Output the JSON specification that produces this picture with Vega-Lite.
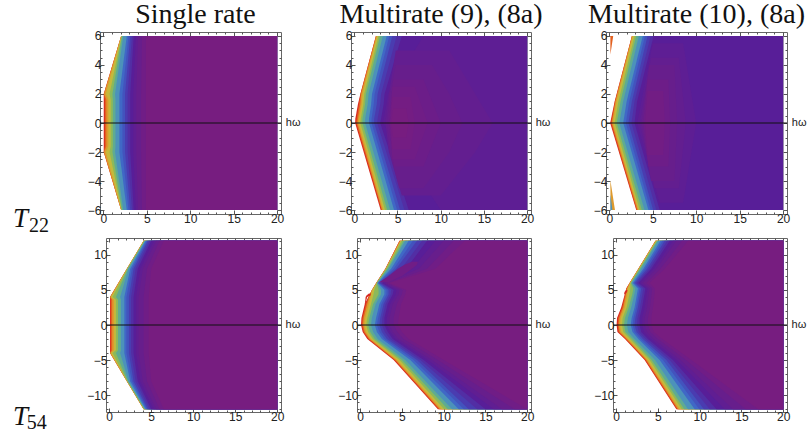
{"$schema":"https://vega.github.io/schema/vega-lite/v6.json","padding":0,"autosize":{"type":"pad"},"background":"white","config":{"view":{"stroke":null},"axis":{"grid":false,"domain":false,"title":null,"labelFont":"Liberation Sans","labelFontSize":12,"labelColor":"#222","tickColor":"#555","labelPadding":3,"format":"d"},"title":{"font":"Liberation Serif","fontSize":28,"fontWeight":"normal","color":"#111","anchor":"middle","offset":1}},
"datasets":{
"a":[
{"v":1,"y":6,"x":2.05},{"v":1,"y":2,"x":0.05},{"v":1,"y":1.6,"x":0.05},{"v":1,"y":-1.6,"x":0.05},{"v":1,"y":-2,"x":0.05},{"v":1,"y":-6,"x":2.05},
{"v":0.9,"y":6,"x":2.05},{"v":0.9,"y":2,"x":0.05},{"v":0.9,"y":1.6,"x":0.18},{"v":0.9,"y":-1.6,"x":0.18},{"v":0.9,"y":-2,"x":0.05},{"v":0.9,"y":-6,"x":2.05},
{"v":0.8,"y":6,"x":2.05},{"v":0.8,"y":2,"x":0.1},{"v":0.8,"y":1.6,"x":0.35},{"v":0.8,"y":-1.6,"x":0.35},{"v":0.8,"y":-2,"x":0.1},{"v":0.8,"y":-6,"x":2.05},
{"v":0.7,"y":6,"x":2.07},{"v":0.7,"y":2,"x":0.3},{"v":0.7,"y":1.6,"x":0.58},{"v":0.7,"y":-1.6,"x":0.58},{"v":0.7,"y":-2,"x":0.3},{"v":0.7,"y":-6,"x":2.07},
{"v":0.6,"y":6,"x":2.1},{"v":0.6,"y":2,"x":0.72},{"v":0.6,"y":1.6,"x":0.85},{"v":0.6,"y":-1.6,"x":0.85},{"v":0.6,"y":-2,"x":0.72},{"v":0.6,"y":-6,"x":2.1},
{"v":0.5,"y":6,"x":2.15},{"v":0.5,"y":2,"x":1.05},{"v":0.5,"y":1.6,"x":1.1},{"v":0.5,"y":-1.6,"x":1.1},{"v":0.5,"y":-2,"x":1.05},{"v":0.5,"y":-6,"x":2.15},
{"v":0.4,"y":6,"x":2.3},{"v":0.4,"y":2,"x":1.35},{"v":0.4,"y":1.6,"x":1.4},{"v":0.4,"y":-1.6,"x":1.4},{"v":0.4,"y":-2,"x":1.35},{"v":0.4,"y":-6,"x":2.3},
{"v":0.3,"y":6,"x":2.7},{"v":0.3,"y":2,"x":1.85},{"v":0.3,"y":-2,"x":1.85},{"v":0.3,"y":-6,"x":2.7},
{"v":0.25,"y":6,"x":2.9},{"v":0.25,"y":2,"x":2.2},{"v":0.25,"y":-2,"x":2.2},{"v":0.25,"y":-6,"x":2.9},
{"v":0.2,"y":6,"x":3.1},{"v":0.2,"y":2,"x":2.5},{"v":0.2,"y":-2,"x":2.5},{"v":0.2,"y":-6,"x":3.1},
{"v":0.16,"y":6,"x":3.3},{"v":0.16,"y":2,"x":2.8},{"v":0.16,"y":-2,"x":2.8},{"v":0.16,"y":-6,"x":3.3},
{"v":0.12,"y":6,"x":3.5},{"v":0.12,"y":2,"x":3.1},{"v":0.12,"y":-2,"x":3.1},{"v":0.12,"y":-6,"x":3.5},
{"v":0.09,"y":6,"x":3.75},{"v":0.09,"y":2,"x":3.45},{"v":0.09,"y":-2,"x":3.45},{"v":0.09,"y":-6,"x":3.75},
{"v":0.06,"y":6,"x":4},{"v":0.06,"y":2,"x":3.8},{"v":0.06,"y":-2,"x":3.8},{"v":0.06,"y":-6,"x":4},
{"v":0.03,"y":6,"x":4.45},{"v":0.03,"y":2,"x":4.35},{"v":0.03,"y":-2,"x":4.35},{"v":0.03,"y":-6,"x":4.45},
{"v":0,"y":6,"x":4.9},{"v":0,"y":-6,"x":4.9}],
"b":[
{"v":1,"y":6,"x":2.5},{"v":1,"y":2,"x":0.7},{"v":1,"y":1.3,"x":0.42},{"v":1,"y":0.3,"x":0.12},{"v":1,"y":0,"x":0.1},{"v":1,"y":-6,"x":3.05},
{"v":0.9,"y":6,"x":2.5},{"v":0.9,"y":2,"x":0.72},{"v":0.9,"y":1.3,"x":0.55},{"v":0.9,"y":0.3,"x":0.28},{"v":0.9,"y":0,"x":0.22},{"v":0.9,"y":-6,"x":3.15},
{"v":0.8,"y":6,"x":2.55},{"v":0.8,"y":2,"x":0.8},{"v":0.8,"y":1.3,"x":0.7},{"v":0.8,"y":0.3,"x":0.42},{"v":0.8,"y":0,"x":0.35},{"v":0.8,"y":-6,"x":3.22},
{"v":0.7,"y":6,"x":2.62},{"v":0.7,"y":2,"x":0.95},{"v":0.7,"y":1.3,"x":0.85},{"v":0.7,"y":0.3,"x":0.55},{"v":0.7,"y":0,"x":0.5},{"v":0.7,"y":-6,"x":3.35},
{"v":0.6,"y":6,"x":2.8},{"v":0.6,"y":2,"x":1.15},{"v":0.6,"y":1.3,"x":1.05},{"v":0.6,"y":0.3,"x":0.75},{"v":0.6,"y":0,"x":0.7},{"v":0.6,"y":-6,"x":3.55},
{"v":0.5,"y":6,"x":3},{"v":0.5,"y":2,"x":1.35},{"v":0.5,"y":1.3,"x":1.25},{"v":0.5,"y":0.3,"x":0.95},{"v":0.5,"y":0,"x":0.95},{"v":0.5,"y":-6,"x":3.8},
{"v":0.4,"y":6,"x":3.3},{"v":0.4,"y":2,"x":1.65},{"v":0.4,"y":1.3,"x":1.55},{"v":0.4,"y":0.3,"x":1.25},{"v":0.4,"y":0,"x":1.25},{"v":0.4,"y":-6,"x":4.15},
{"v":0.3,"y":6,"x":3.75},{"v":0.3,"y":2,"x":2.05},{"v":0.3,"y":1.3,"x":1.95},{"v":0.3,"y":0.3,"x":1.7},{"v":0.3,"y":0,"x":1.7},{"v":0.3,"y":-6,"x":4.6},
{"v":0.25,"y":6,"x":4.05},{"v":0.25,"y":2,"x":2.35},{"v":0.25,"y":1.3,"x":2.25},{"v":0.25,"y":0.3,"x":2},{"v":0.25,"y":0,"x":2},{"v":0.25,"y":-6,"x":4.95},
{"v":0.2,"y":6,"x":4.4},{"v":0.2,"y":2,"x":2.7},{"v":0.2,"y":1.3,"x":2.6},{"v":0.2,"y":0.3,"x":2.3},{"v":0.2,"y":0,"x":2.3},{"v":0.2,"y":-6,"x":5.3},
{"v":0.16,"y":6,"x":4.9},{"v":0.16,"y":2,"x":3.1},{"v":0.16,"y":1.3,"x":3},{"v":0.16,"y":0.3,"x":2.7},{"v":0.16,"y":0,"x":2.65},{"v":0.16,"y":-6,"x":5.8},
{"v":0.12,"y":6,"x":5.5},{"v":0.12,"y":2,"x":3.5},{"v":0.12,"y":1.3,"x":3.4},{"v":0.12,"y":0.3,"x":3.1},{"v":0.12,"y":0,"x":3},{"v":0.12,"y":-6,"x":6.3},
{"v":0.1,"y":6,"x":8},{"v":0.1,"y":2,"x":3.9},{"v":0.1,"y":1.3,"x":3.7},{"v":0.1,"y":0.3,"x":3.4},{"v":0.1,"y":0,"x":3.3},{"v":0.1,"y":-6,"x":10}],
"b2":[
{"v":0.08,"y":5,"x":4.8,"e":11},{"v":0.08,"y":2,"x":4,"e":14},{"v":0.08,"y":0,"x":3.6,"e":16},{"v":0.08,"y":-2,"x":4,"e":14},{"v":0.08,"y":-5,"x":5.5,"e":10},
{"v":0.06,"y":4,"x":4.8,"e":9},{"v":0.06,"y":2,"x":4.1,"e":11},{"v":0.06,"y":0,"x":3.8,"e":12.5},{"v":0.06,"y":-2,"x":4.1,"e":11},{"v":0.06,"y":-4.5,"x":5.2,"e":8},
{"v":0.045,"y":3,"x":4.5,"e":8},{"v":0.045,"y":0,"x":4,"e":10},{"v":0.045,"y":-3,"x":4.6,"e":8},
{"v":0.03,"y":2.5,"x":4.4,"e":7},{"v":0.03,"y":0,"x":4.1,"e":8.5},{"v":0.03,"y":-2.5,"x":4.4,"e":7},
{"v":0.015,"y":1.8,"x":4.4,"e":6.5},{"v":0.015,"y":0,"x":4.2,"e":7},{"v":0.015,"y":-1.8,"x":4.4,"e":6.5},
{"v":0,"y":1,"x":4.5,"e":6},{"v":0,"y":0,"x":4.3,"e":6.3},{"v":0,"y":-1,"x":4.5,"e":6}],
"c":[
{"v":1,"y":6,"x":2.6},{"v":1,"y":1.5,"x":0.62},{"v":1,"y":0,"x":0.1},{"v":1,"y":-6,"x":3.1},
{"v":0.9,"y":6,"x":2.6},{"v":0.9,"y":1.5,"x":0.65},{"v":0.9,"y":0,"x":0.2},{"v":0.9,"y":-6,"x":3.15},
{"v":0.8,"y":6,"x":2.62},{"v":0.8,"y":1.5,"x":0.72},{"v":0.8,"y":0,"x":0.3},{"v":0.8,"y":-6,"x":3.25},
{"v":0.7,"y":6,"x":2.7},{"v":0.7,"y":1.5,"x":0.85},{"v":0.7,"y":0,"x":0.42},{"v":0.7,"y":-6,"x":3.35},
{"v":0.6,"y":6,"x":2.9},{"v":0.6,"y":1.5,"x":1.05},{"v":0.6,"y":0,"x":0.62},{"v":0.6,"y":-6,"x":3.5},
{"v":0.5,"y":6,"x":3.1},{"v":0.5,"y":1.5,"x":1.3},{"v":0.5,"y":0,"x":0.85},{"v":0.5,"y":-6,"x":3.75},
{"v":0.4,"y":6,"x":3.4},{"v":0.4,"y":1.5,"x":1.6},{"v":0.4,"y":0,"x":1.15},{"v":0.4,"y":-6,"x":4.05},
{"v":0.3,"y":6,"x":3.85},{"v":0.3,"y":1.5,"x":2},{"v":0.3,"y":0,"x":1.6},{"v":0.3,"y":-6,"x":4.5},
{"v":0.25,"y":6,"x":4.1},{"v":0.25,"y":1.5,"x":2.3},{"v":0.25,"y":0,"x":1.9},{"v":0.25,"y":-6,"x":4.75},
{"v":0.2,"y":6,"x":4.4},{"v":0.2,"y":1.5,"x":2.6},{"v":0.2,"y":0,"x":2.2},{"v":0.2,"y":-6,"x":5.05},
{"v":0.16,"y":6,"x":4.75},{"v":0.16,"y":1.5,"x":2.9},{"v":0.16,"y":0,"x":2.55},{"v":0.16,"y":-6,"x":5.4},
{"v":0.12,"y":6,"x":5.1},{"v":0.12,"y":1.5,"x":3.2},{"v":0.12,"y":0,"x":2.9},{"v":0.12,"y":-6,"x":5.8}],
"c2":[
{"v":0.1,"y":5.5,"x":5,"e":8.5},{"v":0.1,"y":0,"x":3.2,"e":10},{"v":0.1,"y":-5.5,"x":5.8,"e":8.5},
{"v":0.08,"y":4.5,"x":4.8,"e":8},{"v":0.08,"y":0,"x":3.5,"e":8.8},{"v":0.08,"y":-4.5,"x":5.2,"e":8},
{"v":0.06,"y":4,"x":4.6,"e":7.5},{"v":0.06,"y":0,"x":3.7,"e":7.8},{"v":0.06,"y":-4,"x":4.8,"e":7.5},
{"v":0.04,"y":3,"x":4.4,"e":6.8},{"v":0.04,"y":0,"x":3.9,"e":7},{"v":0.04,"y":-3,"x":4.5,"e":6.8},
{"v":0.02,"y":2.2,"x":4.4,"e":6.2},{"v":0.02,"y":0,"x":4.1,"e":6.4},{"v":0.02,"y":-2.2,"x":4.4,"e":6.2},
{"v":0.9,"y":6,"x":0.12,"e":0.45},{"v":0.9,"y":5.6,"x":0.12,"e":0.35},{"v":0.9,"y":4.7,"x":0.12,"e":0.12},
{"v":0.8,"y":-4,"x":0.12,"e":0.14},{"v":0.8,"y":-6,"x":0.15,"e":0.65},
{"v":0.4,"y":-5,"x":0.12,"e":0.15},{"v":0.4,"y":-6,"x":0.12,"e":0.35}],
"d":[
{"v":1,"y":12,"x":4.1},{"v":1,"y":8,"x":2.1},{"v":1,"y":4,"x":0.1},{"v":1,"y":-4,"x":0.1},{"v":1,"y":-8,"x":2.1},{"v":1,"y":-12,"x":4.1},
{"v":0.9,"y":12,"x":4.1},{"v":0.9,"y":8,"x":2.1},{"v":0.9,"y":4,"x":0.1},{"v":0.9,"y":3.6,"x":0.2},{"v":0.9,"y":-3.6,"x":0.2},{"v":0.9,"y":-4,"x":0.1},{"v":0.9,"y":-8,"x":2.1},{"v":0.9,"y":-12,"x":4.1},
{"v":0.8,"y":12,"x":4.1},{"v":0.8,"y":8,"x":2.1},{"v":0.8,"y":4,"x":0.12},{"v":0.8,"y":3.6,"x":0.36},{"v":0.8,"y":-3.6,"x":0.36},{"v":0.8,"y":-4,"x":0.12},{"v":0.8,"y":-8,"x":2.1},{"v":0.8,"y":-12,"x":4.1},
{"v":0.7,"y":12,"x":4.12},{"v":0.7,"y":8,"x":2.12},{"v":0.7,"y":4,"x":0.2},{"v":0.7,"y":3.6,"x":0.58},{"v":0.7,"y":-3.6,"x":0.58},{"v":0.7,"y":-4,"x":0.2},{"v":0.7,"y":-8,"x":2.12},{"v":0.7,"y":-12,"x":4.12},
{"v":0.6,"y":12,"x":4.15},{"v":0.6,"y":8,"x":2.15},{"v":0.6,"y":4,"x":0.4},{"v":0.6,"y":3.6,"x":0.8},{"v":0.6,"y":-3.6,"x":0.8},{"v":0.6,"y":-4,"x":0.4},{"v":0.6,"y":-8,"x":2.15},{"v":0.6,"y":-12,"x":4.15},
{"v":0.5,"y":12,"x":4.2},{"v":0.5,"y":8,"x":2.2},{"v":0.5,"y":4,"x":0.8},{"v":0.5,"y":3.6,"x":1.05},{"v":0.5,"y":-3.6,"x":1.05},{"v":0.5,"y":-4,"x":0.8},{"v":0.5,"y":-8,"x":2.2},{"v":0.5,"y":-12,"x":4.2},
{"v":0.4,"y":12,"x":4.25},{"v":0.4,"y":8,"x":2.3},{"v":0.4,"y":4,"x":1.3},{"v":0.4,"y":3.6,"x":1.4},{"v":0.4,"y":-3.6,"x":1.4},{"v":0.4,"y":-4,"x":1.3},{"v":0.4,"y":-8,"x":2.3},{"v":0.4,"y":-12,"x":4.25},
{"v":0.3,"y":12,"x":4.35},{"v":0.3,"y":8,"x":2.5},{"v":0.3,"y":4,"x":1.8},{"v":0.3,"y":-4,"x":1.8},{"v":0.3,"y":-8,"x":2.5},{"v":0.3,"y":-12,"x":4.35},
{"v":0.25,"y":12,"x":4.48},{"v":0.25,"y":8,"x":2.7},{"v":0.25,"y":4,"x":2.05},{"v":0.25,"y":-4,"x":2.05},{"v":0.25,"y":-8,"x":2.7},{"v":0.25,"y":-12,"x":4.48},
{"v":0.2,"y":12,"x":4.6},{"v":0.2,"y":8,"x":2.9},{"v":0.2,"y":4,"x":2.35},{"v":0.2,"y":-4,"x":2.35},{"v":0.2,"y":-8,"x":2.9},{"v":0.2,"y":-12,"x":4.6},
{"v":0.16,"y":12,"x":4.8},{"v":0.16,"y":8,"x":3.15},{"v":0.16,"y":4,"x":2.6},{"v":0.16,"y":-4,"x":2.6},{"v":0.16,"y":-8,"x":3.15},{"v":0.16,"y":-12,"x":4.8},
{"v":0.12,"y":12,"x":5},{"v":0.12,"y":8,"x":3.4},{"v":0.12,"y":4,"x":2.9},{"v":0.12,"y":-4,"x":2.9},{"v":0.12,"y":-8,"x":3.4},{"v":0.12,"y":-12,"x":5},
{"v":0.09,"y":12,"x":5.3},{"v":0.09,"y":8,"x":3.7},{"v":0.09,"y":4,"x":3.2},{"v":0.09,"y":-4,"x":3.2},{"v":0.09,"y":-8,"x":3.7},{"v":0.09,"y":-12,"x":5.3},
{"v":0.06,"y":12,"x":5.6},{"v":0.06,"y":8,"x":4},{"v":0.06,"y":4,"x":3.5},{"v":0.06,"y":-4,"x":3.5},{"v":0.06,"y":-8,"x":4},{"v":0.06,"y":-12,"x":5.6},
{"v":0.03,"y":12,"x":6},{"v":0.03,"y":8,"x":4.5},{"v":0.03,"y":4,"x":4.1},{"v":0.03,"y":-4,"x":4.1},{"v":0.03,"y":-8,"x":4.5},{"v":0.03,"y":-12,"x":6},
{"v":0,"y":12,"x":6.5},{"v":0,"y":8,"x":5},{"v":0,"y":4,"x":4.7},{"v":0,"y":-4,"x":4.7},{"v":0,"y":-8,"x":5},{"v":0,"y":-12,"x":6.5}],
"e":[
{"v":1,"y":12,"x":4.7},{"v":1,"y":8,"x":3},{"v":1,"y":6,"x":1.9},{"v":1,"y":5,"x":1.4},{"v":1,"y":4.4,"x":1.15},{"v":1,"y":3,"x":0.55},{"v":1,"y":1,"x":0.15},{"v":1,"y":0,"x":0.1},{"v":1,"y":-1,"x":0.3},{"v":1,"y":-2,"x":0.85},{"v":1,"y":-5,"x":4},{"v":1,"y":-12,"x":9.3},
{"v":0.9,"y":12,"x":4.72},{"v":0.9,"y":8,"x":3.02},{"v":0.9,"y":6,"x":1.92},{"v":0.9,"y":5,"x":1.4},{"v":0.9,"y":4.4,"x":1.15},{"v":0.9,"y":3,"x":0.7},{"v":0.9,"y":1,"x":0.28},{"v":0.9,"y":0,"x":0.22},{"v":0.9,"y":-1,"x":0.42},{"v":0.9,"y":-2,"x":1},{"v":0.9,"y":-5,"x":4.12},{"v":0.9,"y":-12,"x":9.42},
{"v":0.8,"y":12,"x":4.78},{"v":0.8,"y":8,"x":3.04},{"v":0.8,"y":6,"x":1.94},{"v":0.8,"y":5,"x":1.42},{"v":0.8,"y":4.4,"x":1.2},{"v":0.8,"y":3,"x":0.85},{"v":0.8,"y":1,"x":0.42},{"v":0.8,"y":0,"x":0.35},{"v":0.8,"y":-1,"x":0.55},{"v":0.8,"y":-2,"x":1.12},{"v":0.8,"y":-5,"x":4.25},{"v":0.8,"y":-12,"x":9.55},
{"v":0.7,"y":12,"x":4.85},{"v":0.7,"y":8,"x":3.06},{"v":0.7,"y":6,"x":1.95},{"v":0.7,"y":5,"x":1.44},{"v":0.7,"y":4.4,"x":1.3},{"v":0.7,"y":3,"x":1.05},{"v":0.7,"y":1,"x":0.6},{"v":0.7,"y":0,"x":0.5},{"v":0.7,"y":-1,"x":0.7},{"v":0.7,"y":-2,"x":1.28},{"v":0.7,"y":-5,"x":4.42},{"v":0.7,"y":-12,"x":9.75},
{"v":0.6,"y":12,"x":4.95},{"v":0.6,"y":8,"x":3.1},{"v":0.6,"y":6,"x":1.97},{"v":0.6,"y":5,"x":1.7},{"v":0.6,"y":4.4,"x":1.6},{"v":0.6,"y":3,"x":1.3},{"v":0.6,"y":1,"x":0.85},{"v":0.6,"y":0,"x":0.72},{"v":0.6,"y":-1,"x":0.95},{"v":0.6,"y":-2,"x":1.5},{"v":0.6,"y":-5,"x":4.7},{"v":0.6,"y":-12,"x":10.05},
{"v":0.5,"y":12,"x":5.2},{"v":0.5,"y":8,"x":3.25},{"v":0.5,"y":6,"x":2},{"v":0.5,"y":5,"x":2.2},{"v":0.5,"y":4.4,"x":2.2},{"v":0.5,"y":3,"x":1.55},{"v":0.5,"y":1,"x":1.1},{"v":0.5,"y":0,"x":0.95},{"v":0.5,"y":-1,"x":1.2},{"v":0.5,"y":-2,"x":1.75},{"v":0.5,"y":-5,"x":5},{"v":0.5,"y":-12,"x":10.5},
{"v":0.4,"y":12,"x":5.4},{"v":0.4,"y":8,"x":3.4},{"v":0.4,"y":6,"x":2.05},{"v":0.4,"y":5,"x":2.5},{"v":0.4,"y":4.4,"x":2.5},{"v":0.4,"y":3,"x":1.85},{"v":0.4,"y":1,"x":1.4},{"v":0.4,"y":0,"x":1.3},{"v":0.4,"y":-1,"x":1.55},{"v":0.4,"y":-2,"x":2.1},{"v":0.4,"y":-5,"x":5.4},{"v":0.4,"y":-12,"x":11},
{"v":0.3,"y":12,"x":5.8},{"v":0.3,"y":8,"x":3.7},{"v":0.3,"y":6,"x":2.1},{"v":0.3,"y":5,"x":2.9},{"v":0.3,"y":4.4,"x":2.9},{"v":0.3,"y":3,"x":2.3},{"v":0.3,"y":1,"x":1.9},{"v":0.3,"y":0,"x":1.75},{"v":0.3,"y":-1,"x":2},{"v":0.3,"y":-2,"x":2.6},{"v":0.3,"y":-5,"x":6},{"v":0.3,"y":-12,"x":11.8},
{"v":0.25,"y":12,"x":6.3},{"v":0.25,"y":8,"x":4},{"v":0.25,"y":6,"x":2.2},{"v":0.25,"y":5,"x":3.15},{"v":0.25,"y":4.4,"x":3.15},{"v":0.25,"y":3,"x":2.55},{"v":0.25,"y":1,"x":2.15},{"v":0.25,"y":0,"x":2},{"v":0.25,"y":-1,"x":2.3},{"v":0.25,"y":-2,"x":2.9},{"v":0.25,"y":-5,"x":6.4},{"v":0.25,"y":-12,"x":12.4},
{"v":0.2,"y":12,"x":6.8},{"v":0.2,"y":8,"x":4.3},{"v":0.2,"y":6,"x":2.3},{"v":0.2,"y":5,"x":3.4},{"v":0.2,"y":4.4,"x":3.4},{"v":0.2,"y":3,"x":2.8},{"v":0.2,"y":1,"x":2.4},{"v":0.2,"y":0,"x":2.3},{"v":0.2,"y":-1,"x":2.6},{"v":0.2,"y":-2,"x":3.2},{"v":0.2,"y":-5,"x":6.8},{"v":0.2,"y":-12,"x":13},
{"v":0.16,"y":12,"x":7.4},{"v":0.16,"y":8,"x":4.9},{"v":0.16,"y":6,"x":2.45},{"v":0.16,"y":5,"x":3.7},{"v":0.16,"y":4.4,"x":3.65},{"v":0.16,"y":3,"x":3.05},{"v":0.16,"y":1,"x":2.65},{"v":0.16,"y":0,"x":2.6},{"v":0.16,"y":-1,"x":2.95},{"v":0.16,"y":-2,"x":3.55},{"v":0.16,"y":-5,"x":7.2},{"v":0.16,"y":-12,"x":14},
{"v":0.12,"y":12,"x":8},{"v":0.12,"y":8,"x":5.5},{"v":0.12,"y":6,"x":2.6},{"v":0.12,"y":5,"x":4},{"v":0.12,"y":4.4,"x":3.9},{"v":0.12,"y":3,"x":3.3},{"v":0.12,"y":1,"x":2.9},{"v":0.12,"y":0,"x":2.9},{"v":0.12,"y":-1,"x":3.3},{"v":0.12,"y":-2,"x":3.9},{"v":0.12,"y":-5,"x":7.6},{"v":0.12,"y":-12,"x":15},
{"v":0.09,"y":12,"x":9},{"v":0.09,"y":8,"x":6.2},{"v":0.09,"y":6,"x":2.8},{"v":0.09,"y":5,"x":4.35},{"v":0.09,"y":4.4,"x":4.25},{"v":0.09,"y":3,"x":3.6},{"v":0.09,"y":1,"x":3.2},{"v":0.09,"y":0,"x":3.2},{"v":0.09,"y":-1,"x":3.6},{"v":0.09,"y":-2,"x":4.25},{"v":0.09,"y":-5,"x":8.1},{"v":0.09,"y":-12,"x":16},
{"v":0.06,"y":12,"x":10},{"v":0.06,"y":8,"x":7},{"v":0.06,"y":6,"x":3},{"v":0.06,"y":5,"x":4.7},{"v":0.06,"y":4.4,"x":4.6},{"v":0.06,"y":3,"x":3.9},{"v":0.06,"y":1,"x":3.5},{"v":0.06,"y":0,"x":3.5},{"v":0.06,"y":-1,"x":3.9},{"v":0.06,"y":-2,"x":4.6},{"v":0.06,"y":-5,"x":8.6},{"v":0.06,"y":-12,"x":17},
{"v":0.03,"y":12,"x":11.2},{"v":0.03,"y":8,"x":8},{"v":0.03,"y":6,"x":3.25},{"v":0.03,"y":5,"x":5.1},{"v":0.03,"y":4.4,"x":5},{"v":0.03,"y":3,"x":4.4},{"v":0.03,"y":1,"x":4},{"v":0.03,"y":0,"x":4},{"v":0.03,"y":-1,"x":4.45},{"v":0.03,"y":-2,"x":5.2},{"v":0.03,"y":-5,"x":9.3},{"v":0.03,"y":-12,"x":18.5},
{"v":0,"y":12,"x":12.5},{"v":0,"y":8,"x":9},{"v":0,"y":6,"x":3.5},{"v":0,"y":5,"x":5.5},{"v":0,"y":4.4,"x":5.4},{"v":0,"y":3,"x":4.9},{"v":0,"y":1,"x":4.6},{"v":0,"y":0,"x":4.5},{"v":0,"y":-1,"x":5},{"v":0,"y":-2,"x":5.8},{"v":0,"y":-5,"x":10},{"v":0,"y":-12,"x":20}],
"e2":[
{"v":0.03,"y":6.1,"x":2.3,"e":3.4},{"v":0.03,"y":7,"x":3.4,"e":5},{"v":0.03,"y":8,"x":4.5,"e":6.2},{"v":0.03,"y":8.6,"x":5.3,"e":6.8},{"v":0.03,"y":9,"x":6.2,"e":6.9},
{"v":1,"y":4.5,"x":1.05,"e":1.3},{"v":1,"y":4.2,"x":0.75,"e":1.25},{"v":1,"y":4,"x":0.65,"e":0.85},{"v":1,"y":3.6,"x":0.62,"e":0.75},{"v":1,"y":3,"x":0.55,"e":0.65}],
"f":[
{"v":1,"y":12,"x":4.7},{"v":1,"y":8,"x":2.65},{"v":1,"y":6,"x":1.6},{"v":1,"y":5.2,"x":1.2},{"v":1,"y":4.5,"x":1.05},{"v":1,"y":2.5,"x":0.6},{"v":1,"y":1,"x":0.1},{"v":1,"y":0,"x":0.05},{"v":1,"y":-1,"x":0.15},{"v":1,"y":-2,"x":1.05},{"v":1,"y":-5,"x":3.4},{"v":1,"y":-12,"x":7.2},
{"v":0.9,"y":12,"x":4.7},{"v":0.9,"y":8,"x":2.65},{"v":0.9,"y":6,"x":1.6},{"v":0.9,"y":5.2,"x":1.22},{"v":0.9,"y":4.5,"x":1.1},{"v":0.9,"y":2.5,"x":0.72},{"v":0.9,"y":1,"x":0.25},{"v":0.9,"y":0,"x":0.18},{"v":0.9,"y":-1,"x":0.3},{"v":0.9,"y":-2,"x":1.15},{"v":0.9,"y":-5,"x":3.5},{"v":0.9,"y":-12,"x":7.3},
{"v":0.8,"y":12,"x":4.72},{"v":0.8,"y":8,"x":2.67},{"v":0.8,"y":6,"x":1.62},{"v":0.8,"y":5.2,"x":1.3},{"v":0.8,"y":4.5,"x":1.2},{"v":0.8,"y":2.5,"x":0.85},{"v":0.8,"y":1,"x":0.38},{"v":0.8,"y":0,"x":0.3},{"v":0.8,"y":-1,"x":0.42},{"v":0.8,"y":-2,"x":1.27},{"v":0.8,"y":-5,"x":3.62},{"v":0.8,"y":-12,"x":7.42},
{"v":0.7,"y":12,"x":4.75},{"v":0.7,"y":8,"x":2.7},{"v":0.7,"y":6,"x":1.65},{"v":0.7,"y":5.2,"x":1.4},{"v":0.7,"y":4.5,"x":1.35},{"v":0.7,"y":2.5,"x":1.02},{"v":0.7,"y":1,"x":0.55},{"v":0.7,"y":0,"x":0.45},{"v":0.7,"y":-1,"x":0.6},{"v":0.7,"y":-2,"x":1.42},{"v":0.7,"y":-5,"x":3.77},{"v":0.7,"y":-12,"x":7.58},
{"v":0.6,"y":12,"x":4.82},{"v":0.6,"y":8,"x":2.75},{"v":0.6,"y":6,"x":1.7},{"v":0.6,"y":5.2,"x":1.7},{"v":0.6,"y":4.5,"x":1.6},{"v":0.6,"y":2.5,"x":1.25},{"v":0.6,"y":1,"x":0.78},{"v":0.6,"y":0,"x":0.7},{"v":0.6,"y":-1,"x":0.85},{"v":0.6,"y":-2,"x":1.65},{"v":0.6,"y":-5,"x":4},{"v":0.6,"y":-12,"x":7.85},
{"v":0.5,"y":12,"x":4.92},{"v":0.5,"y":8,"x":2.85},{"v":0.5,"y":6,"x":1.78},{"v":0.5,"y":5.2,"x":2.05},{"v":0.5,"y":4.5,"x":1.95},{"v":0.5,"y":2.5,"x":1.5},{"v":0.5,"y":1,"x":1.05},{"v":0.5,"y":0,"x":0.95},{"v":0.5,"y":-1,"x":1.1},{"v":0.5,"y":-2,"x":1.9},{"v":0.5,"y":-5,"x":4.25},{"v":0.5,"y":-12,"x":8.15},
{"v":0.4,"y":12,"x":5.05},{"v":0.4,"y":8,"x":3},{"v":0.4,"y":6,"x":1.85},{"v":0.4,"y":5.2,"x":2.3},{"v":0.4,"y":4.5,"x":2.2},{"v":0.4,"y":2.5,"x":1.8},{"v":0.4,"y":1,"x":1.4},{"v":0.4,"y":0,"x":1.3},{"v":0.4,"y":-1,"x":1.45},{"v":0.4,"y":-2,"x":2.2},{"v":0.4,"y":-5,"x":4.65},{"v":0.4,"y":-12,"x":8.6},
{"v":0.3,"y":12,"x":5.3},{"v":0.3,"y":8,"x":3.25},{"v":0.3,"y":6,"x":2},{"v":0.3,"y":5.2,"x":2.6},{"v":0.3,"y":4.5,"x":2.5},{"v":0.3,"y":2.5,"x":2.2},{"v":0.3,"y":1,"x":1.85},{"v":0.3,"y":0,"x":1.75},{"v":0.3,"y":-1,"x":1.95},{"v":0.3,"y":-2,"x":2.65},{"v":0.3,"y":-5,"x":5.2},{"v":0.3,"y":-12,"x":9.4},
{"v":0.25,"y":12,"x":5.55},{"v":0.25,"y":8,"x":3.45},{"v":0.25,"y":6,"x":2.12},{"v":0.25,"y":5.2,"x":2.8},{"v":0.25,"y":4.5,"x":2.7},{"v":0.25,"y":2.5,"x":2.4},{"v":0.25,"y":1,"x":2.08},{"v":0.25,"y":0,"x":1.98},{"v":0.25,"y":-1,"x":2.2},{"v":0.25,"y":-2,"x":2.92},{"v":0.25,"y":-5,"x":5.6},{"v":0.25,"y":-12,"x":9.95},
{"v":0.2,"y":12,"x":5.8},{"v":0.2,"y":8,"x":3.7},{"v":0.2,"y":6,"x":2.25},{"v":0.2,"y":5.2,"x":3},{"v":0.2,"y":4.5,"x":2.9},{"v":0.2,"y":2.5,"x":2.6},{"v":0.2,"y":1,"x":2.3},{"v":0.2,"y":0,"x":2.2},{"v":0.2,"y":-1,"x":2.45},{"v":0.2,"y":-2,"x":3.2},{"v":0.2,"y":-5,"x":6},{"v":0.2,"y":-12,"x":10.5},
{"v":0.16,"y":12,"x":6.1},{"v":0.16,"y":8,"x":3.95},{"v":0.16,"y":6,"x":2.45},{"v":0.16,"y":5.2,"x":3.25},{"v":0.16,"y":4.5,"x":3.15},{"v":0.16,"y":2.5,"x":2.85},{"v":0.16,"y":1,"x":2.55},{"v":0.16,"y":0,"x":2.5},{"v":0.16,"y":-1,"x":2.72},{"v":0.16,"y":-2,"x":3.5},{"v":0.16,"y":-5,"x":6.4},{"v":0.16,"y":-12,"x":11.2},
{"v":0.12,"y":12,"x":6.4},{"v":0.12,"y":8,"x":4.2},{"v":0.12,"y":6,"x":2.65},{"v":0.12,"y":5.2,"x":3.5},{"v":0.12,"y":4.5,"x":3.4},{"v":0.12,"y":2.5,"x":3.1},{"v":0.12,"y":1,"x":2.8},{"v":0.12,"y":0,"x":2.8},{"v":0.12,"y":-1,"x":3},{"v":0.12,"y":-2,"x":3.8},{"v":0.12,"y":-5,"x":6.8},{"v":0.12,"y":-12,"x":12},
{"v":0.09,"y":12,"x":6.8},{"v":0.09,"y":8,"x":4.5},{"v":0.09,"y":6,"x":2.9},{"v":0.09,"y":5.2,"x":3.75},{"v":0.09,"y":4.5,"x":3.65},{"v":0.09,"y":2.5,"x":3.4},{"v":0.09,"y":1,"x":3.1},{"v":0.09,"y":0,"x":3.1},{"v":0.09,"y":-1,"x":3.35},{"v":0.09,"y":-2,"x":4.15},{"v":0.09,"y":-5,"x":7.25},{"v":0.09,"y":-12,"x":13},
{"v":0.06,"y":12,"x":7.2},{"v":0.06,"y":8,"x":4.8},{"v":0.06,"y":6,"x":3.2},{"v":0.06,"y":5.2,"x":4},{"v":0.06,"y":4.5,"x":3.9},{"v":0.06,"y":2.5,"x":3.7},{"v":0.06,"y":1,"x":3.4},{"v":0.06,"y":0,"x":3.4},{"v":0.06,"y":-1,"x":3.7},{"v":0.06,"y":-2,"x":4.5},{"v":0.06,"y":-5,"x":7.7},{"v":0.06,"y":-12,"x":14},
{"v":0.03,"y":12,"x":7.9},{"v":0.03,"y":8,"x":5.3},{"v":0.03,"y":6,"x":3.6},{"v":0.03,"y":5.2,"x":4.3},{"v":0.03,"y":4.5,"x":4.25},{"v":0.03,"y":2.5,"x":4.05},{"v":0.03,"y":1,"x":3.8},{"v":0.03,"y":0,"x":3.8},{"v":0.03,"y":-1,"x":4.1},{"v":0.03,"y":-2,"x":5},{"v":0.03,"y":-5,"x":8.35},{"v":0.03,"y":-12,"x":15.5},
{"v":0,"y":12,"x":8.6},{"v":0,"y":8,"x":5.8},{"v":0,"y":6,"x":4},{"v":0,"y":5.2,"x":4.6},{"v":0,"y":4.5,"x":4.6},{"v":0,"y":2.5,"x":4.4},{"v":0,"y":1,"x":4.2},{"v":0,"y":0,"x":4.2},{"v":0,"y":-1,"x":4.5},{"v":0,"y":-2,"x":5.5},{"v":0,"y":-5,"x":9},{"v":0,"y":-12,"x":17}],
"f2":[{"v":1,"y":5,"x":1.2,"e":1.35},{"v":1,"y":4.7,"x":1,"e":1.3},{"v":1,"y":4.4,"x":0.95,"e":1.05}]
},
"vconcat":[
{"hconcat":[
{"width":100,"height":182,"data":{"values":[]},"mark":"point"},
{"width":181,"height":182,"view":{"stroke":"#666"},"title":{"text":"Single rate","dx":5},"layer":[
{"data":{"name":"a"},"mark":{"type":"area","orient":"horizontal","clip":true},"encoding":{"y":{"field":"y","type":"quantitative","scale":{"domain":[-6.27,6.27],"nice":false,"zero":false},"axis":{"values":[-6,-5.5,-5,-4.5,-4,-3.5,-3,-2.5,-2,-1.5,-1,-0.5,0,0.5,1,1.5,2,2.5,3,3.5,4,4.5,5,5.5,6],"labelExpr":"datum.value%2==0?datum.label:''","tickSize":{"condition":{"test":"datum.value%2==0","value":-4},"value":-2}}},"x":{"field":"x","type":"quantitative","stack":null,"scale":{"domain":[-0.38,20.45],"nice":false,"zero":false},"axis":{"values":[0,1,2,3,4,5,6,7,8,9,10,11,12,13,14,15,16,17,18,19,20],"labelExpr":"datum.value%5==0?datum.label:''","tickSize":{"condition":{"test":"datum.value%5==0","value":-4},"value":-2}}},"x2":{"datum":20},"detail":{"field":"v"},"color":{"field":"v","type":"quantitative","legend":null,"scale":{"domain":[0,0.06,0.12,0.2,0.3,0.4,0.5,0.6,0.7,0.8,0.9,1],"range":["#771d80","#671e8c","#581e98","#4a3cb0","#4068c6","#4c92ba","#5fab92","#8cb95a","#c4b93c","#dd9a2e","#e2601f","#d82a20"]}}}},
{"data":{"values":[{"x":21,"y":0,"t":"hω"}]},"mark":{"type":"text","align":"left","baseline":"middle","font":"Liberation Sans","fontSize":11,"color":"#222"},"encoding":{"x":{"field":"x","type":"quantitative","axis":null},"y":{"field":"y","type":"quantitative","axis":null},"text":{"field":"t"}}},
{"data":{"values":[{"x":-10.4,"y":-7.17,"t":"T"}]},"mark":{"type":"text","align":"left","baseline":"alphabetic","font":"Liberation Serif","fontStyle":"italic","fontSize":27,"color":"#111"},"encoding":{"x":{"field":"x","type":"quantitative","axis":null},"y":{"field":"y","type":"quantitative","axis":null},"text":{"field":"t"}}},
{"data":{"values":[{"x":-8.55,"y":-7.52,"t":"22"}]},"mark":{"type":"text","align":"left","baseline":"alphabetic","font":"Liberation Serif","fontSize":20,"color":"#111"},"encoding":{"x":{"field":"x","type":"quantitative","axis":null},"y":{"field":"y","type":"quantitative","axis":null},"text":{"field":"t"}}},
{"mark":{"type":"rule","color":"#111","strokeWidth":1},"data":{"values":[{"y":0}]},"encoding":{"y":{"field":"y","type":"quantitative","axis":null}}},
{"data":{"values":[{"x":0,"y":0}]},"mark":{"type":"point","opacity":0},"encoding":{"x":{"field":"x","type":"quantitative","axis":{"orient":"top","labels":false,"values":[0,1,2,3,4,5,6,7,8,9,10,11,12,13,14,15,16,17,18,19,20],"tickSize":{"condition":{"test":"datum.value%5==0","value":-4},"value":-2}}},"y":{"field":"y","type":"quantitative","axis":{"orient":"right","labels":false,"values":[-6,-5.5,-5,-4.5,-4,-3.5,-3,-2.5,-2,-1.5,-1,-0.5,0,0.5,1,1.5,2,2.5,3,3.5,4,4.5,5,5.5,6],"tickSize":{"condition":{"test":"datum.value%2==0","value":-4},"value":-2}}}}}
],"resolve":{"axis":{"x":"independent","y":"independent"}}},
{"width":70,"height":182,"data":{"values":[]},"mark":"point"},
{"width":180,"height":182,"view":{"stroke":"#666"},"title":{"text":"Multirate (9), (8a)"},"layer":[
{"data":{"name":"b"},"mark":{"type":"area","orient":"horizontal","clip":true},"encoding":{"y":{"field":"y","type":"quantitative","scale":{"domain":[-6.27,6.27],"nice":false,"zero":false},"axis":{"values":[-6,-5.5,-5,-4.5,-4,-3.5,-3,-2.5,-2,-1.5,-1,-0.5,0,0.5,1,1.5,2,2.5,3,3.5,4,4.5,5,5.5,6],"labelExpr":"datum.value%2==0?datum.label:''","tickSize":{"condition":{"test":"datum.value%2==0","value":-4},"value":-2}}},"x":{"field":"x","type":"quantitative","stack":null,"scale":{"domain":[-0.38,20.45],"nice":false,"zero":false},"axis":{"values":[0,1,2,3,4,5,6,7,8,9,10,11,12,13,14,15,16,17,18,19,20],"labelExpr":"datum.value%5==0?datum.label:''","tickSize":{"condition":{"test":"datum.value%5==0","value":-4},"value":-2}}},"x2":{"datum":20},"detail":{"field":"v"},"color":{"field":"v","type":"quantitative","legend":null,"scale":{"domain":[0,0.06,0.12,0.2,0.3,0.4,0.5,0.6,0.7,0.8,0.9,1],"range":["#771d80","#671e8c","#581e98","#4a3cb0","#4068c6","#4c92ba","#5fab92","#8cb95a","#c4b93c","#dd9a2e","#e2601f","#d82a20"]}}}},
{"data":{"name":"b2"},"mark":{"type":"area","orient":"horizontal","clip":true},"encoding":{"y":{"field":"y","type":"quantitative","axis":null},"x":{"field":"x","type":"quantitative","stack":null,"axis":null},"x2":{"field":"e"},"detail":{"field":"v"},"color":{"field":"v","type":"quantitative","legend":null}}},
{"data":{"values":[{"x":21,"y":0,"t":"hω"}]},"mark":{"type":"text","align":"left","baseline":"middle","font":"Liberation Sans","fontSize":11,"color":"#222"},"encoding":{"x":{"field":"x","type":"quantitative","axis":null},"y":{"field":"y","type":"quantitative","axis":null},"text":{"field":"t"}}},
{"mark":{"type":"rule","color":"#111","strokeWidth":1},"data":{"values":[{"y":0}]},"encoding":{"y":{"field":"y","type":"quantitative","axis":null}}},
{"data":{"values":[{"x":0,"y":0}]},"mark":{"type":"point","opacity":0},"encoding":{"x":{"field":"x","type":"quantitative","axis":{"orient":"top","labels":false,"values":[0,1,2,3,4,5,6,7,8,9,10,11,12,13,14,15,16,17,18,19,20],"tickSize":{"condition":{"test":"datum.value%5==0","value":-4},"value":-2}}},"y":{"field":"y","type":"quantitative","axis":{"orient":"right","labels":false,"values":[-6,-5.5,-5,-4.5,-4,-3.5,-3,-2.5,-2,-1.5,-1,-0.5,0,0.5,1,1.5,2,2.5,3,3.5,4,4.5,5,5.5,6],"tickSize":{"condition":{"test":"datum.value%2==0","value":-4},"value":-2}}}}}
],"resolve":{"axis":{"x":"independent","y":"independent"}}},
{"width":75,"height":182,"data":{"values":[]},"mark":"point"},
{"width":181,"height":182,"view":{"stroke":"#666"},"title":{"text":"Multirate (10), (8a)"},"layer":[
{"data":{"name":"c"},"mark":{"type":"area","orient":"horizontal","clip":true},"encoding":{"y":{"field":"y","type":"quantitative","scale":{"domain":[-6.27,6.27],"nice":false,"zero":false},"axis":{"values":[-6,-5.5,-5,-4.5,-4,-3.5,-3,-2.5,-2,-1.5,-1,-0.5,0,0.5,1,1.5,2,2.5,3,3.5,4,4.5,5,5.5,6],"labelExpr":"datum.value%2==0?datum.label:''","tickSize":{"condition":{"test":"datum.value%2==0","value":-4},"value":-2}}},"x":{"field":"x","type":"quantitative","stack":null,"scale":{"domain":[-0.38,20.45],"nice":false,"zero":false},"axis":{"values":[0,1,2,3,4,5,6,7,8,9,10,11,12,13,14,15,16,17,18,19,20],"labelExpr":"datum.value%5==0?datum.label:''","tickSize":{"condition":{"test":"datum.value%5==0","value":-4},"value":-2}}},"x2":{"datum":20},"detail":{"field":"v"},"color":{"field":"v","type":"quantitative","legend":null,"scale":{"domain":[0,0.06,0.12,0.2,0.3,0.4,0.5,0.6,0.7,0.8,0.9,1],"range":["#771d80","#671e8c","#581e98","#4a3cb0","#4068c6","#4c92ba","#5fab92","#8cb95a","#c4b93c","#dd9a2e","#e2601f","#d82a20"]}}}},
{"data":{"name":"c2"},"mark":{"type":"area","orient":"horizontal","clip":true},"encoding":{"y":{"field":"y","type":"quantitative","axis":null},"x":{"field":"x","type":"quantitative","stack":null,"axis":null},"x2":{"field":"e"},"detail":{"field":"v"},"color":{"field":"v","type":"quantitative","legend":null}}},
{"data":{"values":[{"x":21,"y":0,"t":"hω"}]},"mark":{"type":"text","align":"left","baseline":"middle","font":"Liberation Sans","fontSize":11,"color":"#222"},"encoding":{"x":{"field":"x","type":"quantitative","axis":null},"y":{"field":"y","type":"quantitative","axis":null},"text":{"field":"t"}}},
{"mark":{"type":"rule","color":"#111","strokeWidth":1},"data":{"values":[{"y":0}]},"encoding":{"y":{"field":"y","type":"quantitative","axis":null}}},
{"data":{"values":[{"x":0,"y":0}]},"mark":{"type":"point","opacity":0},"encoding":{"x":{"field":"x","type":"quantitative","axis":{"orient":"top","labels":false,"values":[0,1,2,3,4,5,6,7,8,9,10,11,12,13,14,15,16,17,18,19,20],"tickSize":{"condition":{"test":"datum.value%5==0","value":-4},"value":-2}}},"y":{"field":"y","type":"quantitative","axis":{"orient":"right","labels":false,"values":[-6,-5.5,-5,-4.5,-4,-3.5,-3,-2.5,-2,-1.5,-1,-0.5,0,0.5,1,1.5,2,2.5,3,3.5,4,4.5,5,5.5,6],"tickSize":{"condition":{"test":"datum.value%2==0","value":-4},"value":-2}}}}}
],"resolve":{"axis":{"x":"independent","y":"independent"}}}
],"bounds":"flush","spacing":0},
{"hconcat":[
{"width":106,"height":174,"data":{"values":[]},"mark":"point"},
{"width":175,"height":174,"view":{"stroke":"#666"},"layer":[
{"data":{"name":"d"},"mark":{"type":"area","orient":"horizontal","clip":true},"encoding":{"y":{"field":"y","type":"quantitative","scale":{"domain":[-12.4,12.4],"nice":false,"zero":false},"axis":{"values":[-12,-11,-10,-9,-8,-7,-6,-5,-4,-3,-2,-1,0,1,2,3,4,5,6,7,8,9,10,11,12],"labelExpr":"datum.value%5==0?datum.label:''","tickSize":{"condition":{"test":"datum.value%5==0","value":-4},"value":-2}}},"x":{"field":"x","type":"quantitative","stack":null,"scale":{"domain":[-0.38,20.45],"nice":false,"zero":false},"axis":{"values":[0,1,2,3,4,5,6,7,8,9,10,11,12,13,14,15,16,17,18,19,20],"labelExpr":"datum.value%5==0?datum.label:''","tickSize":{"condition":{"test":"datum.value%5==0","value":-4},"value":-2}}},"x2":{"datum":20},"detail":{"field":"v"},"color":{"field":"v","type":"quantitative","legend":null,"scale":{"domain":[0,0.06,0.12,0.2,0.3,0.4,0.5,0.6,0.7,0.8,0.9,1],"range":["#771d80","#671e8c","#581e98","#4a3cb0","#4068c6","#4c92ba","#5fab92","#8cb95a","#c4b93c","#dd9a2e","#e2601f","#d82a20"]}}}},
{"data":{"values":[{"x":21,"y":0,"t":"hω"}]},"mark":{"type":"text","align":"left","baseline":"middle","font":"Liberation Sans","fontSize":11,"color":"#222"},"encoding":{"x":{"field":"x","type":"quantitative","axis":null},"y":{"field":"y","type":"quantitative","axis":null},"text":{"field":"t"}}},
{"data":{"values":[{"x":-11.46,"y":-14.25,"t":"T"}]},"mark":{"type":"text","align":"left","baseline":"alphabetic","font":"Liberation Serif","fontStyle":"italic","fontSize":27,"color":"#111"},"encoding":{"x":{"field":"x","type":"quantitative","axis":null},"y":{"field":"y","type":"quantitative","axis":null},"text":{"field":"t"}}},
{"data":{"values":[{"x":-9.8,"y":-14.8,"t":"54"}]},"mark":{"type":"text","align":"left","baseline":"alphabetic","font":"Liberation Serif","fontSize":20,"color":"#111"},"encoding":{"x":{"field":"x","type":"quantitative","axis":null},"y":{"field":"y","type":"quantitative","axis":null},"text":{"field":"t"}}},
{"mark":{"type":"rule","color":"#111","strokeWidth":1},"data":{"values":[{"y":0}]},"encoding":{"y":{"field":"y","type":"quantitative","axis":null}}},
{"data":{"values":[{"x":0,"y":0}]},"mark":{"type":"point","opacity":0},"encoding":{"x":{"field":"x","type":"quantitative","axis":{"orient":"top","labels":false,"values":[0,1,2,3,4,5,6,7,8,9,10,11,12,13,14,15,16,17,18,19,20],"tickSize":{"condition":{"test":"datum.value%5==0","value":-4},"value":-2}}},"y":{"field":"y","type":"quantitative","axis":{"orient":"right","labels":false,"values":[-12,-11,-10,-9,-8,-7,-6,-5,-4,-3,-2,-1,0,1,2,3,4,5,6,7,8,9,10,11,12],"tickSize":{"condition":{"test":"datum.value%5==0","value":-4},"value":-2}}}}}
],"resolve":{"axis":{"x":"independent","y":"independent"}}},
{"width":76,"height":174,"data":{"values":[]},"mark":"point"},
{"width":174,"height":174,"view":{"stroke":"#666"},"layer":[
{"data":{"name":"e"},"mark":{"type":"area","orient":"horizontal","clip":true},"encoding":{"y":{"field":"y","type":"quantitative","scale":{"domain":[-12.4,12.4],"nice":false,"zero":false},"axis":{"values":[-12,-11,-10,-9,-8,-7,-6,-5,-4,-3,-2,-1,0,1,2,3,4,5,6,7,8,9,10,11,12],"labelExpr":"datum.value%5==0?datum.label:''","tickSize":{"condition":{"test":"datum.value%5==0","value":-4},"value":-2}}},"x":{"field":"x","type":"quantitative","stack":null,"scale":{"domain":[-0.38,20.45],"nice":false,"zero":false},"axis":{"values":[0,1,2,3,4,5,6,7,8,9,10,11,12,13,14,15,16,17,18,19,20],"labelExpr":"datum.value%5==0?datum.label:''","tickSize":{"condition":{"test":"datum.value%5==0","value":-4},"value":-2}}},"x2":{"datum":20},"detail":{"field":"v"},"color":{"field":"v","type":"quantitative","legend":null,"scale":{"domain":[0,0.06,0.12,0.2,0.3,0.4,0.5,0.6,0.7,0.8,0.9,1],"range":["#771d80","#671e8c","#581e98","#4a3cb0","#4068c6","#4c92ba","#5fab92","#8cb95a","#c4b93c","#dd9a2e","#e2601f","#d82a20"]}}}},
{"data":{"name":"e2"},"mark":{"type":"area","orient":"horizontal","clip":true},"encoding":{"y":{"field":"y","type":"quantitative","axis":null},"x":{"field":"x","type":"quantitative","stack":null,"axis":null},"x2":{"field":"e"},"detail":{"field":"v"},"color":{"field":"v","type":"quantitative","legend":null}}},
{"data":{"values":[{"x":21,"y":0,"t":"hω"}]},"mark":{"type":"text","align":"left","baseline":"middle","font":"Liberation Sans","fontSize":11,"color":"#222"},"encoding":{"x":{"field":"x","type":"quantitative","axis":null},"y":{"field":"y","type":"quantitative","axis":null},"text":{"field":"t"}}},
{"mark":{"type":"rule","color":"#111","strokeWidth":1},"data":{"values":[{"y":0}]},"encoding":{"y":{"field":"y","type":"quantitative","axis":null}}},
{"data":{"values":[{"x":0,"y":0}]},"mark":{"type":"point","opacity":0},"encoding":{"x":{"field":"x","type":"quantitative","axis":{"orient":"top","labels":false,"values":[0,1,2,3,4,5,6,7,8,9,10,11,12,13,14,15,16,17,18,19,20],"tickSize":{"condition":{"test":"datum.value%5==0","value":-4},"value":-2}}},"y":{"field":"y","type":"quantitative","axis":{"orient":"right","labels":false,"values":[-12,-11,-10,-9,-8,-7,-6,-5,-4,-3,-2,-1,0,1,2,3,4,5,6,7,8,9,10,11,12],"tickSize":{"condition":{"test":"datum.value%5==0","value":-4},"value":-2}}}}}
],"resolve":{"axis":{"x":"independent","y":"independent"}}},
{"width":82,"height":174,"data":{"values":[]},"mark":"point"},
{"width":174,"height":174,"view":{"stroke":"#666"},"layer":[
{"data":{"name":"f"},"mark":{"type":"area","orient":"horizontal","clip":true},"encoding":{"y":{"field":"y","type":"quantitative","scale":{"domain":[-12.4,12.4],"nice":false,"zero":false},"axis":{"values":[-12,-11,-10,-9,-8,-7,-6,-5,-4,-3,-2,-1,0,1,2,3,4,5,6,7,8,9,10,11,12],"labelExpr":"datum.value%5==0?datum.label:''","tickSize":{"condition":{"test":"datum.value%5==0","value":-4},"value":-2}}},"x":{"field":"x","type":"quantitative","stack":null,"scale":{"domain":[-0.38,20.45],"nice":false,"zero":false},"axis":{"values":[0,1,2,3,4,5,6,7,8,9,10,11,12,13,14,15,16,17,18,19,20],"labelExpr":"datum.value%5==0?datum.label:''","tickSize":{"condition":{"test":"datum.value%5==0","value":-4},"value":-2}}},"x2":{"datum":20},"detail":{"field":"v"},"color":{"field":"v","type":"quantitative","legend":null,"scale":{"domain":[0,0.06,0.12,0.2,0.3,0.4,0.5,0.6,0.7,0.8,0.9,1],"range":["#771d80","#671e8c","#581e98","#4a3cb0","#4068c6","#4c92ba","#5fab92","#8cb95a","#c4b93c","#dd9a2e","#e2601f","#d82a20"]}}}},
{"data":{"name":"f2"},"mark":{"type":"area","orient":"horizontal","clip":true},"encoding":{"y":{"field":"y","type":"quantitative","axis":null},"x":{"field":"x","type":"quantitative","stack":null,"axis":null},"x2":{"field":"e"},"detail":{"field":"v"},"color":{"field":"v","type":"quantitative","legend":null}}},
{"data":{"values":[{"x":21,"y":0,"t":"hω"}]},"mark":{"type":"text","align":"left","baseline":"middle","font":"Liberation Sans","fontSize":11,"color":"#222"},"encoding":{"x":{"field":"x","type":"quantitative","axis":null},"y":{"field":"y","type":"quantitative","axis":null},"text":{"field":"t"}}},
{"mark":{"type":"rule","color":"#111","strokeWidth":1},"data":{"values":[{"y":0}]},"encoding":{"y":{"field":"y","type":"quantitative","axis":null}}},
{"data":{"values":[{"x":0,"y":0}]},"mark":{"type":"point","opacity":0},"encoding":{"x":{"field":"x","type":"quantitative","axis":{"orient":"top","labels":false,"values":[0,1,2,3,4,5,6,7,8,9,10,11,12,13,14,15,16,17,18,19,20],"tickSize":{"condition":{"test":"datum.value%5==0","value":-4},"value":-2}}},"y":{"field":"y","type":"quantitative","axis":{"orient":"right","labels":false,"values":[-12,-11,-10,-9,-8,-7,-6,-5,-4,-3,-2,-1,0,1,2,3,4,5,6,7,8,9,10,11,12],"tickSize":{"condition":{"test":"datum.value%5==0","value":-4},"value":-2}}}}}
],"resolve":{"axis":{"x":"independent","y":"independent"}}}
],"bounds":"flush","spacing":0}
],"spacing":0}
